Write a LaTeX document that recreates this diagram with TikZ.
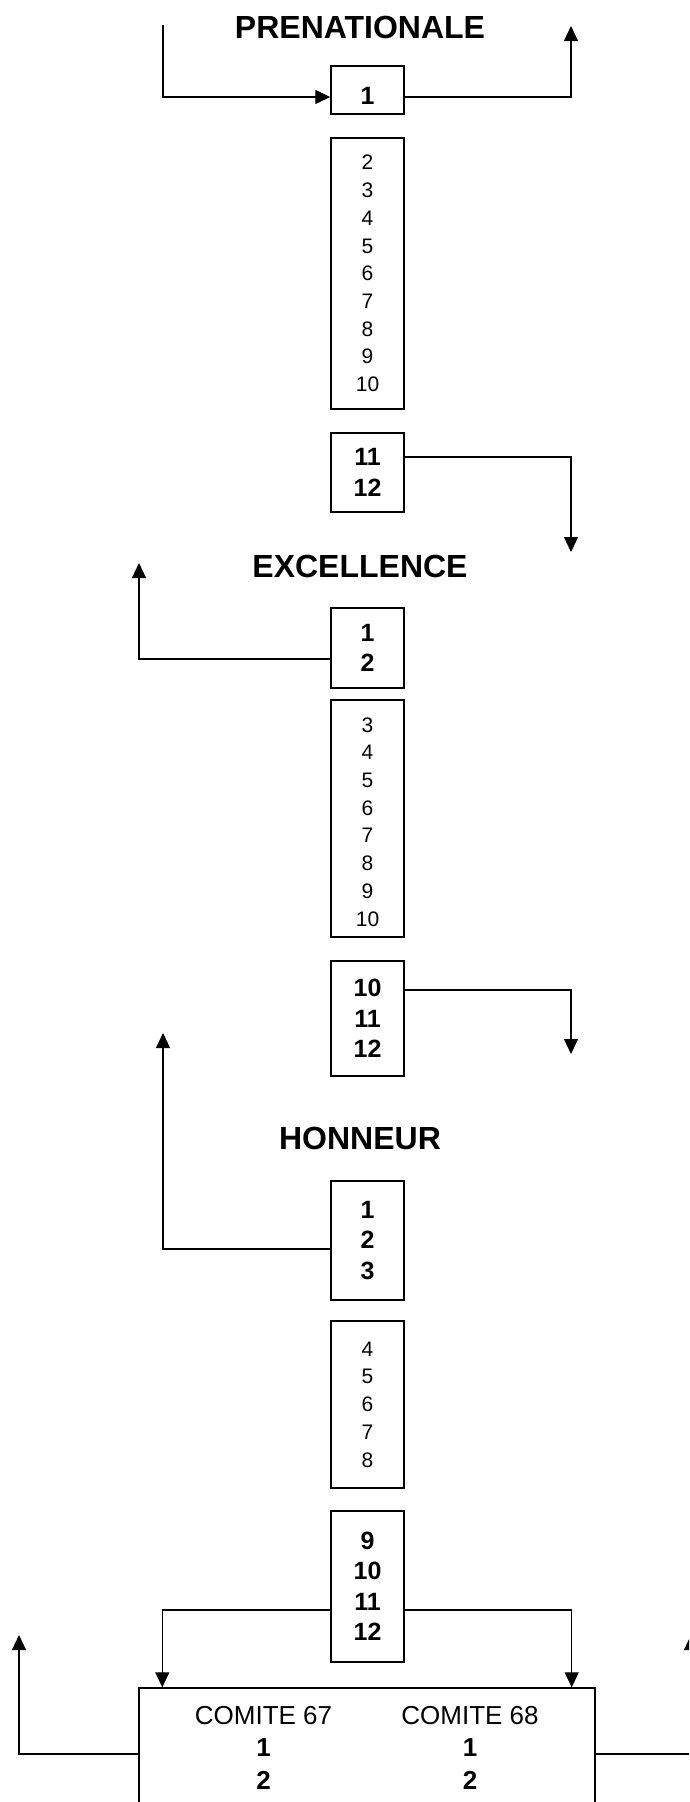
\documentclass[tikz,border=0pt]{standalone}
\usepackage{fontspec}
\setmainfont{Liberation Sans}
\usetikzlibrary{arrows.meta}

\begin{document}
\begin{tikzpicture}[x=1pt, y=-1pt,
  numbox/.style={draw, line width=1.4pt, minimum width=73pt, inner sep=0pt, align=center},
  boldnum/.style={font=\fontsize{25}{30.5}\selectfont\bfseries},
  plainnum/.style={font=\fontsize{21}{27.7}\selectfont},
  heading/.style={font=\fontsize{32}{34}\selectfont\bfseries},
  comite/.style={font=\fontsize{26}{32.5}\selectfont, align=center, inner sep=0pt, anchor=north},
  link/.style={line width=1.3pt, -{Triangle[length=15pt, width=14pt]}}]
\useasboundingbox (0,0) rectangle (689,1802);
\clip (0,0) rectangle (689,1802);
%PRENATIONALE
\node[heading] (pren) at (360,27) {PRENATIONALE};
\node[numbox, boldnum, minimum height=48pt, text height=28pt] (pr1) at (367.5,90) {1};
\node[numbox, plainnum, minimum height=271pt] (pr2) at (367.5,273.5) {2\\3\\4\\5\\6\\7\\8\\9\\10};
\node[numbox, boldnum, minimum height=79pt] (pr11) at (367.5,472.5) {11\\12};
%EXCELLENCE
\node[heading] (exc) at (360,566) {EXCELLENCE};
\node[numbox, boldnum, minimum height=80pt] (ex1) at (367.5,648) {1\\2};
\node[numbox, minimum height=237pt] (ex3) at (367.5,818.5) {};
\begin{scope}
\clip ([yshift=11pt]ex3.south west) rectangle (ex3.north east);
\node[plainnum, align=center, inner sep=0pt, anchor=north] (ex3txt) at ([yshift=-18pt]ex3.north) {3\\4\\5\\6\\7\\8\\9\\10};
\end{scope}
\node[numbox, boldnum, minimum height=115pt] (ex10) at (367.5,1018.5) {10\\11\\12};
%HONNEUR
\node[heading] (hon) at (360,1138) {HONNEUR};
\node[numbox, boldnum, minimum height=119pt] (ho1) at (367.5,1240.5) {1\\2\\3};
\node[numbox, plainnum, minimum height=167pt] (ho4) at (367.5,1404.5) {4\\5\\6\\7\\8};
\node[numbox, boldnum, minimum height=151pt] (ho9) at (367.5,1586.5) {9\\10\\11\\12};
%comites
\node[draw, line width=1.4pt, minimum width=456pt, minimum height=200pt, inner sep=0pt] (comites) at (367,1788) {};
\node[comite] (c67) at (263.5,1705.7) {COMITE 67\\\textbf{1}\\\textbf{2}};
\node[comite] (c68) at (470,1705.7) {COMITE 68\\\textbf{1}\\\textbf{2}};
%arrows
\coordinate (prin) at (163,25);
\coordinate (prup) at (571,26);
\coordinate (prdown) at (571,552);
\coordinate (exup) at (139,563);
\coordinate (exdown) at (571,1054);
\coordinate (houp) at (163,1033);
\coordinate (coleft) at (19,1635);
\coordinate (coright) at (691,1635);
\draw[link] (prin) |- ([yshift=-7pt]pr1.west);
\draw[link] ([yshift=-7pt]pr1.east) -| (prup);
\draw[link] ([yshift=15.5pt]pr11.east) -| (prdown);
\draw[link] ([yshift=-11pt]ex1.west) -| (exup);
\draw[link] ([yshift=28.5pt]ex10.east) -| (exdown);
\draw[link] ([yshift=-8.5pt]ho1.west) -| (houp);
\draw[link] ([yshift=-23.5pt]ho9.west) -| ([xshift=24pt]comites.north west);
\draw[link] ([yshift=-23.5pt]ho9.east) -| ([xshift=-24pt]comites.north east);
\draw[link] ([yshift=34pt]comites.west) -| (coleft);
\draw[link] ([yshift=34pt]comites.east) -| (coright);
\end{tikzpicture}
\end{document}
